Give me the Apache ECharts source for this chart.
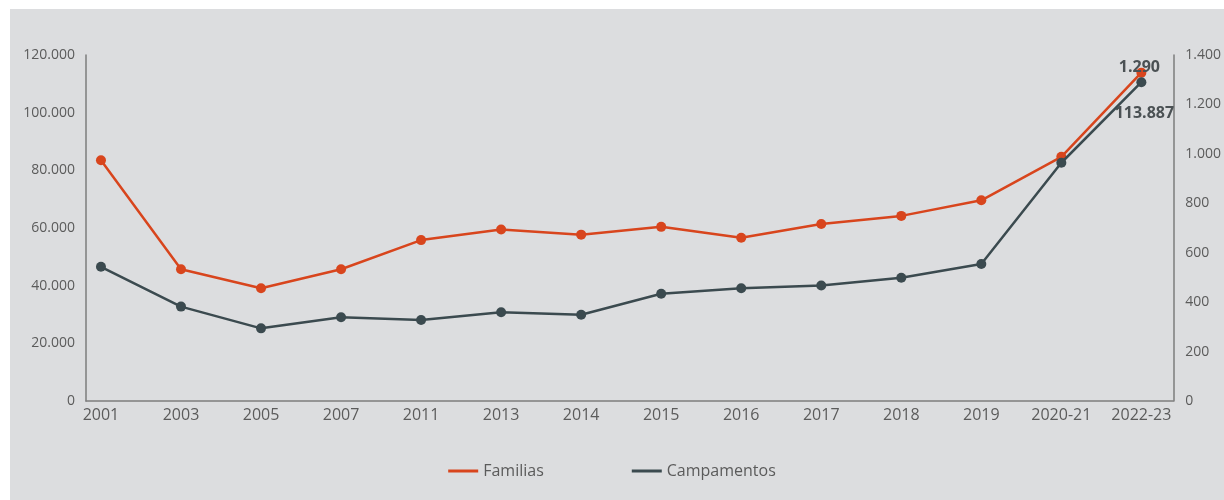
<!DOCTYPE html>
<html>
<head>
<meta charset="utf-8">
<script src="https://cdn.jsdelivr.net/npm/echarts@6/dist/echarts.min.js"></script>
<style>
  html, body { margin: 0; padding: 0; background: #ffffff; }
  #chart { width: 1224px; height: 500px; }
</style>
</head>
<body>
<div id="chart"></div>
<script>
// Period labels along the horizontal axis
const periods = ['2001', '2003', '2005', '2007', '2011', '2013', '2014', '2015', '2016', '2017', '2018', '2019', '2020-21', '2022-23'];
// Families (left axis)
const familias = [83500, 45700, 39100, 45700, 55800, 59500, 57700, 60400, 56600, 61400, 64200, 69600, 84700, 113887];
// Settlements (right axis)
const campamentos = [543, 382, 294, 339, 328, 359, 349, 434, 456, 467, 499, 554, 964, 1290];
// Tick values
const leftTicks = [0, 20000, 40000, 60000, 80000, 100000, 120000];
const rightTicks = [0, 200, 400, 600, 800, 1000, 1200, 1400];

const RED = '#d8451d';
const DARK = '#3b4a4f';
const TEXT = '#5b5b5b';
const AXIS = '#7d7d7d';
const FONT = '"Open Sans", "Noto Sans", sans-serif';

// Spanish-style thousands separator
const fmt = v => String(v).replace(/\B(?=(\d{3})+(?!\d))/g, '.');

const last = periods.length - 1;

const chart = echarts.init(document.getElementById('chart'), null, { renderer: 'canvas' });

chart.setOption({
  animation: false,
  backgroundColor: '#ffffff',
  textStyle: { fontFamily: FONT },
  graphic: [{
    type: 'rect',
    z: -10,
    silent: true,
    shape: { x: 10, y: 9, width: 1214, height: 491 },
    style: { fill: '#dcdddf' }
  }],
  grid: { left: 86, right: 48, top: 55, bottom: 99, containLabel: false },
  legend: {
    bottom: 16,
    left: 'center',
    itemWidth: 30,
    itemHeight: 12,
    itemGap: 88,
    icon: 'path://M0,0 L30,0 L30,3 L0,3 Z',
    textStyle: { color: TEXT, fontSize: 16, fontFamily: FONT },
    data: ['Familias', 'Campamentos']
  },
  xAxis: {
    type: 'value',
    min: -0.187,
    max: 13.399,
    splitLine: { show: false },
    axisTick: { show: false },
    axisLine: { show: true, onZero: false, lineStyle: { color: AXIS, width: 1.5 } },
    axisLabel: {
      customValues: periods.map((p, i) => i),
      formatter: v => periods[Math.round(v)] || '',
      color: TEXT,
      fontSize: 16,
      margin: 6,
      fontFamily: FONT,
      showMinLabel: true,
      showMaxLabel: true
    }
  },
  yAxis: [{
    type: 'value',
    position: 'left',
    min: 0,
    max: 120000,
    interval: 20000,
    splitLine: { show: false },
    axisTick: { show: false },
    axisLine: { show: true, onZero: false, lineStyle: { color: AXIS, width: 1.5 } },
    axisLabel: {
      customValues: leftTicks,
      formatter: v => fmt(v),
      color: TEXT,
      fontSize: 14,
      margin: 11,
      fontFamily: FONT
    }
  }, {
    type: 'value',
    position: 'right',
    min: 0,
    max: 1400,
    interval: 200,
    splitLine: { show: false },
    axisTick: { show: false },
    axisLine: { show: true, onZero: false, lineStyle: { color: AXIS, width: 1.5 } },
    axisLabel: {
      customValues: rightTicks,
      formatter: v => fmt(v),
      color: TEXT,
      fontSize: 14,
      margin: 12,
      fontFamily: FONT
    }
  }],
  series: [{
    name: 'Familias',
    type: 'line',
    yAxisIndex: 0,
    data: familias.map((v, i) => [i, v]),
    symbol: 'circle',
    symbolSize: 10,
    lineStyle: { color: RED, width: 2.5 },
    itemStyle: { color: RED },
    z: 2,
    label: {
      show: true,
      position: 'bottom',
      distance: 28,
      offset: [3, 0],
      formatter: p => p.dataIndex === last ? fmt(p.value[1]) : '',
      color: '#4b5154',
      fontSize: 16,
      fontWeight: 'bold',
      fontFamily: FONT
    }
  }, {
    name: 'Campamentos',
    type: 'line',
    yAxisIndex: 1,
    data: campamentos.map((v, i) => [i, v]),
    symbol: 'circle',
    symbolSize: 10,
    lineStyle: { color: DARK, width: 2.5 },
    itemStyle: { color: DARK },
    z: 3,
    label: {
      show: true,
      position: 'top',
      distance: 2,
      offset: [-2, 0],
      formatter: p => p.dataIndex === last ? fmt(p.value[1]) : '',
      color: '#4b5154',
      fontSize: 16,
      fontWeight: 'bold',
      fontFamily: FONT
    }
  }]
});
</script>
</body>
</html>
